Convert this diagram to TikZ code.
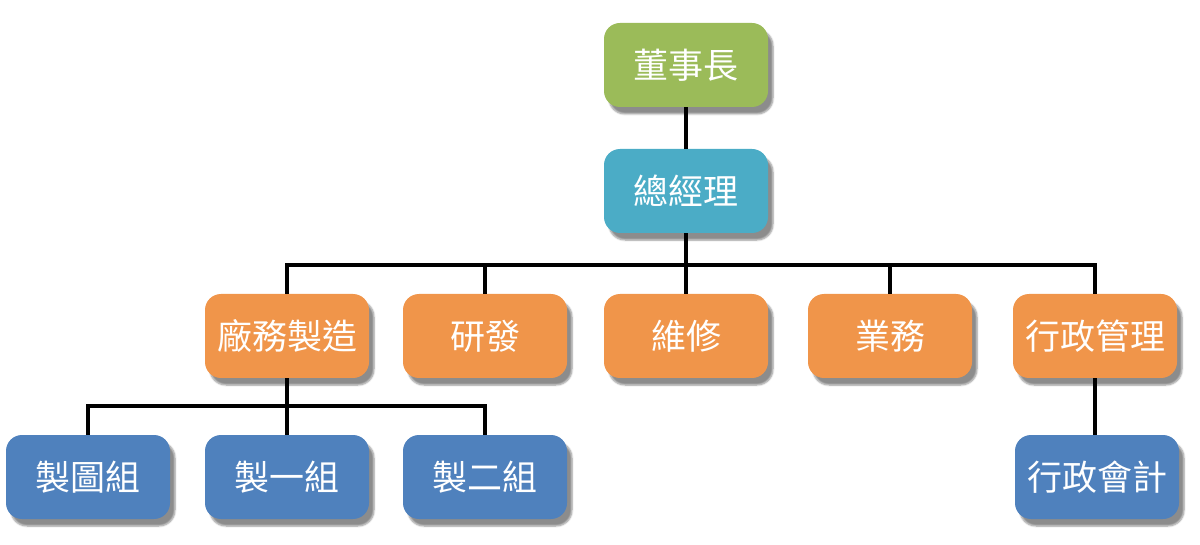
\documentclass[tikz,border=0pt]{standalone}
\usepackage{fontspec}
\newfontfamily\cjk{Noto Sans CJK TC}
\usetikzlibrary{shadows.blur}
\definecolor{cgreen}{HTML}{9BBB59}
\definecolor{cteal}{HTML}{4BACC6}
\definecolor{corange}{HTML}{F0954A}
\definecolor{cblue}{HTML}{4F81BD}
\begin{document}
\begin{tikzpicture}[x=1pt,y=-1pt,
  box/.style={rounded corners=16pt, minimum width=164pt, minimum height=84pt,
    text=white, font=\cjk\fontsize{35}{38}\selectfont, inner sep=0pt,
    blur shadow={shadow xshift=5pt, shadow yshift=-7pt, shadow blur steps=6, shadow opacity=45}},
  link/.style={line width=3.2pt, black}]
\useasboundingbox (0,0) rectangle (1200,545);
\node[box, fill=cgreen] (ceo) at (686,65) {董事長};
\node[box, fill=cteal] (gm) at (686,191) {總經理};
\node[box, fill=corange] (fab) at (287,336) {廠務製造};
\node[box, fill=corange] (rd) at (485,336) {研發};
\node[box, fill=corange] (mnt) at (686,336) {維修};
\node[box, fill=corange] (biz) at (890,336) {業務};
\node[box, fill=corange] (adm) at (1095,336) {行政管理};
\node[box, fill=cblue] (draw) at (88,477) {製圖組};
\node[box, fill=cblue] (g1) at (287,477) {製一組};
\node[box, fill=cblue] (g2) at (485,477) {製二組};
\node[box, fill=cblue] (acc) at (1097,477) {行政會計};
\coordinate (busA) at (686,265);
\coordinate (busB) at (287,406);
\draw[link] (ceo.south) -- (gm.north);
\draw[link] (gm.south) -- (busA);
\draw[link] (fab.north) |- (busA) -| (adm.north);
\draw[link] (rd.north) -- (rd.north |- busA);
\draw[link] (mnt.north) -- (busA);
\draw[link] (biz.north) -- (biz.north |- busA);
\draw[link] (fab.south) -- (busB);
\draw[link] (draw.north) |- (busB) -| (g2.north);
\draw[link] (g1.north) -- (busB);
\draw[link] (adm.south) -- (adm.south |- acc.north);
\end{tikzpicture}
\end{document}
